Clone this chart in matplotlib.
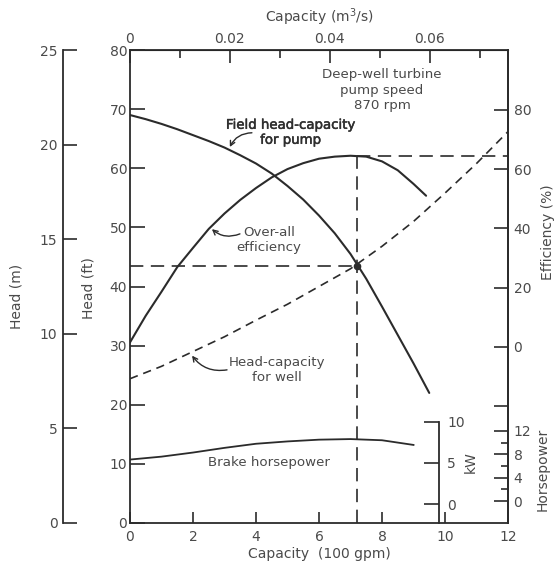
import matplotlib
matplotlib.use('Agg')

import matplotlib.pyplot as plt
import matplotlib.patheffects as pe
import numpy as np

# --------------------
# values, capacity in units of 100 gpm
# --------------------
pump_q = [0, 0.5, 1, 1.5, 2, 2.5, 3, 3.5, 4, 4.5, 5, 5.5, 6, 6.5, 7, 7.5, 8, 8.5, 9, 9.5]
pump_head_ft = [69.0, 68.3, 67.5, 66.6, 65.6, 64.6, 63.5, 62.2, 60.8, 59.1, 57.0, 54.7,
                52.0, 49.0, 45.5, 41.3, 36.6, 31.8, 27.0, 22.0]

eff_q = [0, 0.5, 1, 1.5, 2, 2.5, 3, 3.5, 4, 4.5, 5, 5.5, 6, 6.5, 7, 7.5, 8, 8.5, 9, 9.4]
eff_pct = [1.5, 10.5, 18.6, 26.9, 33.4, 39.8, 45.0, 49.6, 53.6, 57.2, 60.0, 62.0,
           63.5, 64.2, 64.5, 64.2, 62.6, 59.6, 55.0, 51.0]

well_q = [0, 1, 2, 3, 4, 5, 6, 7, 8, 9, 10, 11, 12]
well_head_ft = [24.4, 26.5, 29.0, 31.5, 34.3, 37.0, 40.0, 43.0, 46.8, 51.0, 55.8, 60.8, 66.2]

bhp_q = [0, 1, 2, 3, 4, 5, 6, 7, 8, 9]
bhp_hp = [7.1, 7.6, 8.3, 9.1, 9.8, 10.2, 10.5, 10.6, 10.4, 9.6]

# operating point
op_q = 7.2
op_head_ft = 43.5
op_eff = 64.5

x_ticks = [0, 2, 4, 6, 8, 10, 12]
ft_ticks = [0, 10, 20, 30, 40, 50, 60, 70, 80]
m_ticks = [0, 5, 10, 15, 20, 25]
m3s_ticks = [0, 0.02, 0.04, 0.06]
m3s_labels = ['0', '0.02', '0.04', '0.06']
m3s_minor = [0.01, 0.03, 0.05, 0.07]
eff_ticks = [-20, 0, 20, 40, 60, 80]
eff_labels = ['', '0', '20', '40', '60', '80']
hp_ticks = [0, 4, 8, 12]
hp_minor = [2, 6, 10]
kw_ticks = [0, 5, 10]


# scales as they are drawn on the sheet
def q_to_m3s(q):
    return np.asarray(q) * 0.0063090

def m3s_to_q(v):
    return np.asarray(v) / 0.0063090

def ft_to_m(ft):
    return np.asarray(ft) / 3.2

def m_to_ft(m):
    return np.asarray(m) * 3.2

def eff_to_ft(e):
    return 29.8 + 0.501 * np.asarray(e)

def ft_to_eff(ft):
    return (np.asarray(ft) - 29.8) / 0.501

def hp_to_ft(hp):
    return 3.7 + 0.99 * np.asarray(hp)

def ft_to_hp(ft):
    return (np.asarray(ft) - 3.7) / 0.99

def kw_to_ft(kw):
    return 3.2 + 1.39 * np.asarray(kw)

def ft_to_kw(ft):
    return (np.asarray(ft) - 3.2) / 1.39


INK = '#2b2b2b'
TXT = '#4a4a4a'
plt.rcParams['font.family'] = ['DejaVu Sans']
plt.rcParams['font.size'] = 9.6
plt.rcParams['text.color'] = TXT

W, H = 558, 567
fig = plt.figure(figsize=(W / 100, H / 100), dpi=100)
ax = fig.add_axes([130 / W, 1 - 523 / H, 378 / W, 473 / H])
ax.set_xlim(0, 12)
ax.set_ylim(0, 80)
for s in ax.spines.values():
    s.set_color(INK)
    s.set_linewidth(1.3)

ax.xaxis.set_ticks_position('bottom')
ax.yaxis.set_ticks_position('left')
ax.set_xticks(x_ticks)
ax.set_yticks(ft_ticks)
ax.tick_params(axis='x', direction='in', length=8, width=1.2, color=INK, labelcolor=TXT, labelsize=10, pad=5)
ax.tick_params(axis='y', direction='in', length=11, width=1.2, color=INK, labelcolor=TXT, labelsize=10, pad=2)
ax.set_xlabel('Capacity  (100 gpm)', fontsize=10, color=TXT, labelpad=2)

# top: m3/s
top = ax.secondary_xaxis('top', functions=(q_to_m3s, m3s_to_q))
top.set_xticks(m3s_ticks, m3s_labels)
top.set_xticks(m3s_minor, minor=True)
top.tick_params(which='major', direction='in', length=9, width=1.2, color=INK, labelcolor=TXT, labelsize=10, pad=3)
top.tick_params(which='minor', direction='in', length=6, width=1.2, color=INK)
top.set_xlabel('Capacity (m$^3$/s)', fontsize=10, color=TXT, labelpad=7)

# outer left: metres
m_ax = ax.secondary_yaxis(-67 / 378, functions=(ft_to_m, m_to_ft))
m_ax.set_yticks(m_ticks)
m_ax.tick_params(direction='in', length=10, width=1.2, color=INK, labelcolor=TXT, labelsize=10, pad=4)
m_ax.spines['left'].set_color(INK)
m_ax.spines['left'].set_linewidth(1.3)

# right: efficiency and horsepower
e_ax = ax.secondary_yaxis('right', functions=(ft_to_eff, eff_to_ft))
e_ax.set_yticks(eff_ticks, eff_labels)
e_ax.tick_params(direction='in', length=10, width=1.2, color=INK, labelcolor=TXT, labelsize=10, pad=4)
e_ax.spines['right'].set_color(INK)
e_ax.spines['right'].set_linewidth(1.3)

hp_ax = ax.secondary_yaxis('right', functions=(ft_to_hp, hp_to_ft))
hp_ax.set_yticks(hp_ticks)
hp_ax.set_yticks(hp_minor, minor=True)
hp_ax.tick_params(which='major', direction='in', length=10, width=1.2, color=INK, labelcolor=TXT, labelsize=10, pad=4)
hp_ax.tick_params(which='minor', direction='in', length=5, width=1.2, color=INK)
hp_ax.spines['right'].set_visible(False)

# inner kW scale
kw_ax = ax.secondary_yaxis((439 - 130) / 378, functions=(ft_to_kw, kw_to_ft))
kw_ax.set_yticks(kw_ticks)
kw_ax.tick_params(direction='in', length=11, width=1.2, color=INK, labelcolor=TXT, labelsize=10, pad=6)
kw_ax.spines['right'].set_color(INK)
kw_ax.spines['right'].set_linewidth(1.3)
kw_ax.spines['right'].set_bounds(float(ft_to_kw(0)), kw_ticks[-1])

# curves
ax.plot(pump_q, pump_head_ft, color=INK, lw=1.5, solid_capstyle='round')
ax.plot(eff_q, eff_to_ft(eff_pct), color=INK, lw=1.5, solid_capstyle='round')
ax.plot(well_q, well_head_ft, color=INK, lw=1.2, ls=(0, (5, 3.5)))
ax.plot(bhp_q, hp_to_ft(bhp_hp), color=INK, lw=1.3)

long_dash = (0, (8, 4.5))
peak_ft = float(eff_to_ft(op_eff))
ax.plot([0, op_q], [op_head_ft, op_head_ft], color=INK, lw=1.2, ls=long_dash)
ax.plot([op_q, op_q], [0, peak_ft], color=INK, lw=1.2, ls=long_dash)
ax.plot([op_q, 12], [peak_ft, peak_ft], color=INK, lw=1.2, ls=long_dash)
ax.plot([op_q], [op_head_ft], 'o', color=INK, ms=4.5)

# annotations
ax.text(8.0, 73.2, 'Deep-well turbine\npump speed\n870 rpm', ha='center', va='center', linespacing=1.25)
ax.text(5.11, 66.0, 'Field head-capacity\nfor pump', ha='center', va='center', color='#2e2e2e',
        path_effects=[pe.withStroke(linewidth=0.35, foreground='#2e2e2e')])
ax.text(4.41, 47.9, 'Over-all\nefficiency', ha='center', va='center')
ax.text(4.67, 25.9, 'Head-capacity\nfor well', ha='center', va='center')
ax.text(4.4, 10.3, 'Brake horsepower', ha='center', va='center')

arrow = '->,head_length=0.35,head_width=0.18'
ax.annotate('', xy=(3.17, 63.6), xytext=(3.87, 66.0),
            arrowprops=dict(arrowstyle=arrow, connectionstyle='arc3,rad=0.3', lw=1, color=INK,
                            shrinkA=0, shrinkB=0))
ax.annotate('', xy=(2.60, 49.7), xytext=(3.49, 48.9),
            arrowprops=dict(arrowstyle=arrow, connectionstyle='arc3,rad=-0.3', lw=1, color=INK,
                            shrinkA=0, shrinkB=0))
ax.annotate('', xy=(1.97, 28.3), xytext=(3.08, 25.9),
            arrowprops=dict(arrowstyle=arrow, connectionstyle='arc3,rad=-0.3', lw=1, color=INK,
                            shrinkA=0, shrinkB=0))

# side labels
fig.text(17 / W, 1 - 296 / H, 'Head (m)', rotation=90, ha='center', va='center', fontsize=10)
fig.text(88 / W, 1 - 288 / H, 'Head (ft)', rotation=90, ha='center', va='center', fontsize=10)
fig.text(548 / W, 1 - 232 / H, 'Efficiency (%)', rotation=90, ha='center', va='center', fontsize=10)
fig.text(543 / W, 1 - 469 / H, 'Horsepower', rotation=90, ha='center', va='center', fontsize=10)
fig.text(471 / W, 1 - 462 / H, 'kW', rotation=90, ha='center', va='center', fontsize=10)

fig.savefig('out.png', dpi=100, facecolor='white')
